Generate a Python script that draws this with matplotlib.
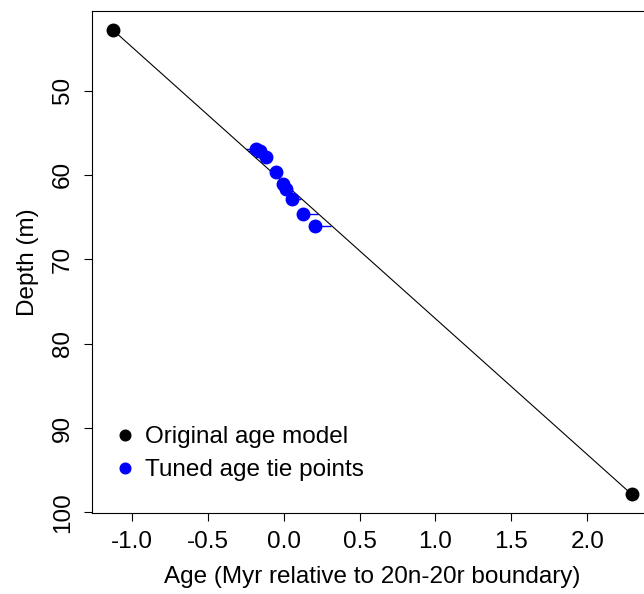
import numpy as np
import matplotlib
matplotlib.use("Agg")
import matplotlib.pyplot as plt

plt.rcParams['font.family'] = ['Liberation Sans', 'DejaVu Sans']

# original age model (two tie points)
orig_age = [-1.127, 2.293]
orig_depth = [42.78, 97.87]

# tuned age tie points
tuned_age = [-0.180, -0.154, -0.114, -0.048, -0.005, 0.018, 0.057, 0.127, 0.204]
tuned_depth = [56.9, 57.2, 57.9, 59.6, 61.1, 61.7, 62.8, 64.6, 66.0]

# age of the original model at the tuned depths (end of each blue segment)
model_age = np.interp(tuned_depth, orig_depth, orig_age)

fig = plt.figure(figsize=(6.44, 5.94), dpi=100)
ax = fig.add_axes([0.1424, 0.1364, 0.871, 0.845])

ax.hlines(tuned_depth, tuned_age, model_age, color='blue', lw=1)
ax.plot(orig_age, orig_depth, color='black', lw=0.8)
ax.plot(orig_age, orig_depth, 'o', color='black', ms=9, label='Original age model')
ax.plot(tuned_age, tuned_depth, 'o', color='blue', ms=9, label='Tuned age tie points', zorder=3)

ax.set_xlim(-1.264, 2.43)
ax.set_ylim(100.07, 40.58)
ax.set_xticks([-1.0, -0.5, 0.0, 0.5, 1.0, 1.5, 2.0])
ax.set_xticklabels(['-1.0', '-0.5', '0.0', '0.5', '1.0', '1.5', '2.0'])
ax.set_yticks([50, 60, 70, 80, 90, 100])
for lab in ax.get_yticklabels():
    lab.set_rotation(90)
    lab.set_va('center')

ax.tick_params(direction='out', length=6, width=0.8, labelsize=17.5, pad=7)
for s in ax.spines.values():
    s.set_linewidth(0.8)

ax.set_xlabel('Age (Myr relative to 20n-20r boundary)', fontsize=17.5, labelpad=9)
ax.set_ylabel('Depth (m)', fontsize=17.5, labelpad=9)

ax.legend(loc='lower left', bbox_to_anchor=(0.01, 0.02), frameon=False, fontsize=17.5,
          handlelength=0.5, handletextpad=0.55, labelspacing=0.45, markerscale=0.85)

fig.savefig('out.png', dpi=100)
